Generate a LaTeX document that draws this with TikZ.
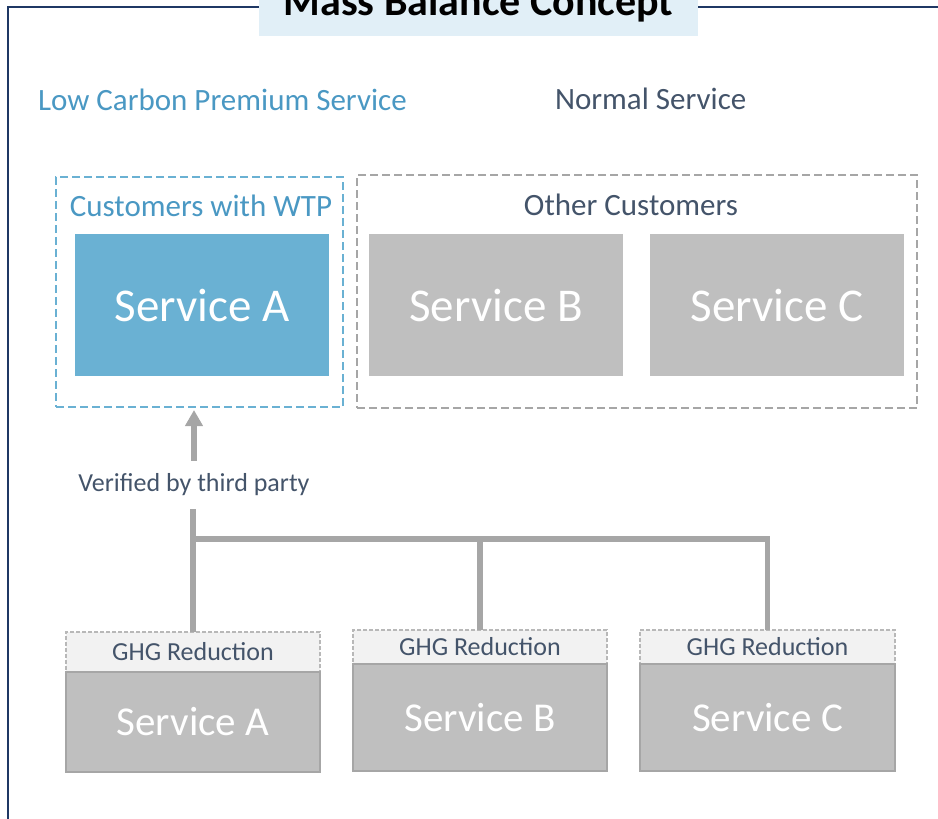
\documentclass[tikz,border=0pt]{standalone}
\usepackage{fontspec}
\setmainfont{Carlito}
\usetikzlibrary{arrows.meta, positioning}
\definecolor{lcblue}{HTML}{4A98C3}
\definecolor{svcblue}{HTML}{6AB1D3}
\definecolor{slate}{HTML}{44546A}
\definecolor{svcgray}{HTML}{BFBFBF}
\definecolor{linegray}{HTML}{A6A6A6}
\definecolor{ghgfill}{HTML}{F2F2F2}
\definecolor{titlefill}{HTML}{E1EFF7}
\definecolor{framenavy}{HTML}{1F3864}

\begin{document}
\begin{tikzpicture}[
  x=1pt, y=-1pt,
  inner sep=0pt, outer sep=0pt,
  frame/.style={draw=framenavy, line width=1.5pt},
  titlebox/.style={fill=titlefill, minimum width=439pt, minimum height=62pt, text height=29pt, text depth=8pt, font=\bfseries\fontsize{42}{44}\selectfont},
  head/.style={font=\fontsize{31}{36}\selectfont},
  note/.style={text=slate, font=\fontsize{26}{30}\selectfont},
  wtpgrp/.style={draw=svcblue, line width=2pt, dash pattern=on 8pt off 4pt},
  othgrp/.style={draw=linegray, line width=2pt, dash pattern=on 8pt off 4pt},
  svc/.style={fill=svcgray, minimum width=254pt, minimum height=142pt, text=white, font=\fontsize{47}{50}\selectfont},
  ghg/.style={fill=ghgfill, draw=linegray!80, line width=1.3pt, dash pattern=on 4pt off 2pt, minimum width=254pt, minimum height=34pt, text=slate, font=\fontsize{26}{30}\selectfont},
  bot/.style={fill=svcgray, draw=linegray, line width=2pt, minimum width=254pt, text=white, font=\fontsize{41}{44}\selectfont},
  arr/.style={-{Triangle[width=17pt, length=16pt]}, linegray, line width=5.5pt, shorten >=3pt},
  link/.style={linegray, line width=5.5pt}
]
  \useasboundingbox (0,0) rectangle (938,819);
  \clip (0,0) rectangle (938,819);

  % outer frame and title
  \draw[frame] (8,840) -- (8,7) -- (960,7);
  \node[titlebox] (title) at (478.5,5) {Mass Balance Concept};

  \node[head, text=lcblue, anchor=base west] (lowc) at (38,110) {Low Carbon Premium Service};
  \node[head, text=slate, anchor=base west] (norm) at (555,109) {Normal Service};

  % customer groups
  \node[wtpgrp, minimum width=287pt, minimum height=230pt] (wtp) at (199.5,292) {};
  \node[othgrp, minimum width=560pt, minimum height=233pt] (other) at (637,291.5) {};
  \node[head, text=lcblue, anchor=base] (wtplab) at (201,216) {Customers with WTP};
  \node[head, text=slate, anchor=base] (othlab) at (631,215) {Other Customers};

  \node[svc, fill=svcblue] (topA) at (202,305) {Service A};
  \node[svc, right=40pt of topA] (topB) {Service B};
  \node[svc, right=27pt of topB] (topC) {Service C};

  % services with GHG reduction
  \node[ghg, minimum height=40pt] (ghgA) at (193,652) {GHG Reduction};
  \node[bot, below=0pt of ghgA, minimum height=100pt] (botA) {Service A};
  \node[ghg] (ghgB) at (480,647) {GHG Reduction};
  \node[bot, below=0pt of ghgB, minimum height=107pt] (botB) {Service B};
  \node[ghg, minimum width=255pt] (ghgC) at (767.5,647) {GHG Reduction};
  \node[bot, below=0pt of ghgC, minimum width=255pt, minimum height=107pt] (botC) {Service C};

  \node[note, inner ysep=13pt] (verif) at (194,485) {Verified by third party};
  \coordinate (bus) at (0,539);

  \draw[arr] (verif.north) -- (verif.north |- wtp.south);
  \draw[link] (ghgA.north) -- (ghgA.north |- verif.south);
  \draw[link] (ghgC.north) |- (ghgA.north |- bus);
  \draw[link] (ghgB.north) -- (ghgB.north |- bus);
\end{tikzpicture}
\end{document}
